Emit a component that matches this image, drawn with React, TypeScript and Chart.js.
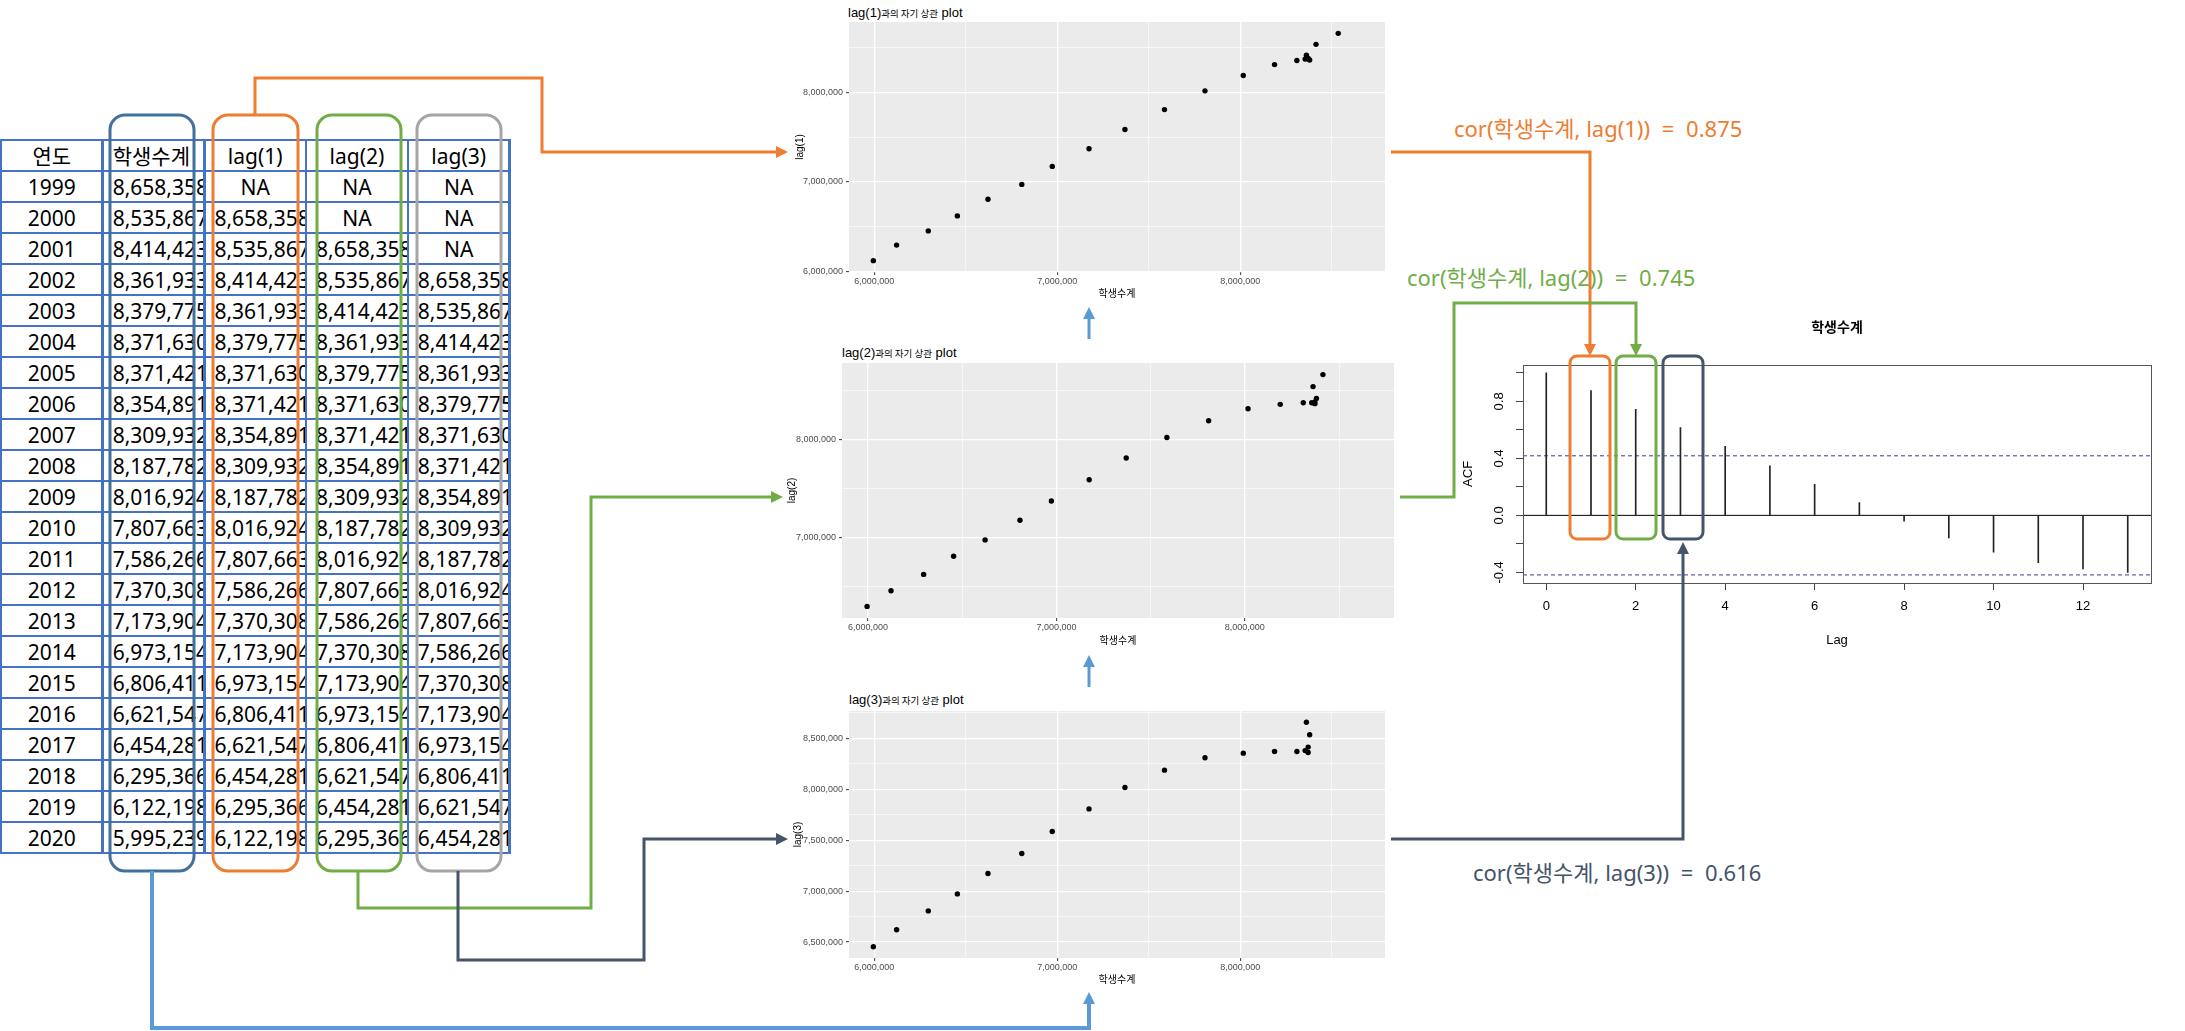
import React, { useEffect, useRef } from 'react';
import { Chart, registerables } from 'chart.js';

Chart.register(...registerables);

// ---------------- data ----------------
const years = [1999, 2000, 2001, 2002, 2003, 2004, 2005, 2006, 2007, 2008, 2009, 2010, 2011, 2012, 2013, 2014, 2015, 2016, 2017, 2018, 2019, 2020];
const students = [8658358, 8535867, 8414423, 8361933, 8379775, 8371630, 8371421, 8354891, 8309932, 8187782, 8016924, 7807663, 7586266, 7370308, 7173904, 6973154, 6806411, 6621547, 6454281, 6295366, 6122198, 5995239];
const lagOrders = [1, 2, 3];
const tableHeaders = ['연도', '학생수계', 'lag(1)', 'lag(2)', 'lag(3)'];
const seriesName = '학생수계';
const acfLags = [0, 1, 2, 3, 4, 5, 6, 7, 8, 9, 10, 11, 12, 13];
const acfValues = [1.0, 0.875, 0.745, 0.616, 0.484, 0.348, 0.217, 0.089, -0.04, -0.159, -0.259, -0.332, -0.376, -0.4];
const acfLimit = 0.418;
const corValues = [0.875, 0.745, 0.616];

// ---------------- helpers ----------------
const lagSeries = (k: number) => students.map((_, i) => (i - k >= 0 ? students[i - k] : null));
const fmt = (v: number) => Number(v).toLocaleString('en-US');
const expand = (vals: number[], f: number) => {
  const mn = Math.min(...vals);
  const mx = Math.max(...vals);
  const d = (mx - mn) * f;
  return [mn - d, mx + d];
};
const isMult = (v: any, m: number) => v !== undefined && v !== null && Math.abs(Math.round(v / m) * m - v) < 1e-6 * m;
const stepTicks = (step: number) => (scale: any) => {
  const out: any[] = [];
  const start = Math.ceil((scale.min - 1e-9 * step) / step);
  for (let j = start; j * step <= scale.max + 1e-9 * step; j++) {
    out.push({ value: Math.round(j * step * 1e6) / 1e6 });
  }
  scale.ticks = out;
};

const GG_FONT = "'Liberation Sans', Arial, 'Noto Sans CJK KR', sans-serif";
const KR_FONT = "'Noto Sans', 'Noto Sans CJK KR', sans-serif";

const ORANGE = '#ED7D31';
const GREEN = '#70AD47';
const DARK = '#44546A';
const GRAY = '#A5A5A5';
const STEEL = '#41719C';
const LIGHTBLUE = '#5B9BD5';
const TABLE_LINE = '#4472C4';

const panelBg = {
  id: 'panelBg',
  beforeDraw(chart: any, _a: any, opts: any) {
    const { ctx, chartArea } = chart;
    if (!chartArea) return;
    ctx.save();
    ctx.fillStyle = opts.color || '#EBEBEB';
    ctx.fillRect(chartArea.left, chartArea.top, chartArea.right - chartArea.left, chartArea.bottom - chartArea.top);
    ctx.restore();
  },
};

// ---------------- scatter plots ----------------
type ScatterBox = {
  k: number;
  left: number; top: number; w: number; h: number;
  yAxisW: number; xAxisH: number; padTop: number; padRight: number;
  yTitlePad: number; yMajor: number; yMinor: number;
  titleLeft: number; titleTop: number;
};

function ScatterPlot(p: ScatterBox) {
  const ref = useRef<HTMLCanvasElement>(null);
  useEffect(() => {
    const lag = lagSeries(p.k);
    const pts: any[] = [];
    students.forEach((x, i) => {
      if (lag[i] !== null) pts.push({ x, y: lag[i] });
    });
    const [xMin, xMax] = expand(students, 0.05);
    const [yMin, yMax] = expand(pts.map((q) => q.y), 0.05);
    const xMajor = 1000000;
    const xMinor = 500000;
    const chart = new Chart(ref.current as HTMLCanvasElement, {
      type: 'scatter',
      data: {
        datasets: [
          {
            data: pts,
            pointRadius: 2.7,
            pointBackgroundColor: '#000',
            pointBorderWidth: 0,
            borderColor: '#000',
          } as any,
        ],
      },
      options: {
        animation: false,
        responsive: false,
        maintainAspectRatio: false,
        layout: { padding: { top: p.padTop, right: p.padRight, left: 0, bottom: 0 } },
        plugins: {
          legend: { display: false },
          tooltip: { enabled: false },
          panelBg: { color: '#EBEBEB' },
        } as any,
        scales: {
          x: {
            type: 'linear',
            min: xMin,
            max: xMax,
            border: { display: false },
            grid: {
              color: '#FFFFFF',
              lineWidth: (c: any) => (isMult(c.tick?.value, xMajor) ? 1.3 : 0.6),
              drawTicks: true,
              tickLength: 3,
              tickWidth: 1,
              tickColor: (c: any) => (isMult(c.tick?.value, xMajor) ? '#333333' : 'rgba(0,0,0,0)'),
            },
            afterBuildTicks: stepTicks(xMinor),
            ticks: {
              autoSkip: false,
              maxRotation: 0,
              padding: 1.5,
              color: '#4D4D4D',
              font: { size: 9, family: GG_FONT },
              callback: (v: any) => (isMult(v, xMajor) ? fmt(v) : ''),
            },
            title: {
              display: true,
              text: seriesName,
              color: '#000',
              font: { size: 10, family: GG_FONT },
              padding: { top: 0, bottom: 2 },
            },
            afterFit: (s: any) => {
              s.height = p.xAxisH;
            },
          },
          y: {
            type: 'linear',
            min: yMin,
            max: yMax,
            border: { display: false },
            grid: {
              color: '#FFFFFF',
              lineWidth: (c: any) => (isMult(c.tick?.value, p.yMajor) ? 1.3 : 0.6),
              drawTicks: true,
              tickLength: 3,
              tickWidth: 1,
              tickColor: (c: any) => (isMult(c.tick?.value, p.yMajor) ? '#333333' : 'rgba(0,0,0,0)'),
            },
            afterBuildTicks: stepTicks(p.yMinor),
            ticks: {
              autoSkip: false,
              padding: 3,
              color: '#4D4D4D',
              font: { size: 9, family: GG_FONT },
              callback: (v: any) => (isMult(v, p.yMajor) ? fmt(v) : ''),
            },
            title: {
              display: true,
              text: `lag(${p.k})`,
              color: '#000',
              font: { size: 10, family: GG_FONT },
              padding: { top: p.yTitlePad, bottom: 0 },
            },
            afterFit: (s: any) => {
              s.width = p.yAxisW;
            },
          },
        } as any,
      },
      plugins: [panelBg as any],
    });
    return () => chart.destroy();
  }, []);
  return (
    <>
      <div
        style={{
          position: 'absolute',
          left: p.titleLeft,
          top: p.titleTop,
          height: 17,
          lineHeight: '17px',
          whiteSpace: 'nowrap',
          color: '#000',
        }}
      >
        <span style={{ fontFamily: GG_FONT, fontSize: 13 }}>{`lag(${p.k})`}</span>
        <span style={{ fontFamily: "'Noto Sans CJK KR', sans-serif", fontSize: 9.5 }}>과의 자기 상관</span>
        <span style={{ fontFamily: GG_FONT, fontSize: 13 }}> plot</span>
      </div>
      <canvas
        ref={ref}
        width={p.w}
        height={p.h}
        style={{ position: 'absolute', left: p.left, top: p.top, width: p.w, height: p.h }}
      />
    </>
  );
}

// ---------------- ACF chart ----------------
const acfBox = {
  id: 'acfBox',
  afterDraw(chart: any) {
    const { ctx, chartArea } = chart;
    ctx.save();
    ctx.strokeStyle = '#555555';
    ctx.lineWidth = 1;
    ctx.strokeRect(
      Math.round(chartArea.left) + 0.5,
      Math.round(chartArea.top) + 0.5,
      Math.round(chartArea.right - chartArea.left),
      Math.round(chartArea.bottom - chartArea.top)
    );
    ctx.restore();
  },
};

const acfYLabels = {
  id: 'acfYLabels',
  afterDraw(chart: any) {
    const s = chart.scales.y;
    const { ctx, chartArea } = chart;
    ctx.save();
    ctx.font = `13px ${GG_FONT}`;
    ctx.fillStyle = '#000';
    ctx.textAlign = 'center';
    ctx.textBaseline = 'middle';
    s.ticks.forEach((t: any) => {
      const idx = Math.round(t.value / 0.2);
      if (idx % 2 !== 0) return;
      const y = s.getPixelForValue(t.value);
      ctx.save();
      ctx.translate(chartArea.left - 24, y);
      ctx.rotate(-Math.PI / 2);
      ctx.fillText((Math.abs(t.value) < 1e-9 ? 0 : t.value).toFixed(1), 0, 0);
      ctx.restore();
    });
    ctx.restore();
  },
};

function AcfChart() {
  const ref = useRef<HTMLCanvasElement>(null);
  useEffect(() => {
    const [xMin, xMax] = expand(acfLags, 0.04);
    const [yMin, yMax] = expand([-acfLimit, acfLimit, ...acfValues], 0.04);
    const chart = new Chart(ref.current as HTMLCanvasElement, {
      type: 'bar',
      data: {
        datasets: [
          {
            type: 'bar',
            data: acfLags.map((l, i) => ({ x: l, y: acfValues[i] })),
            backgroundColor: '#222222',
            borderWidth: 0,
            barThickness: 1,
          } as any,
          {
            type: 'line',
            data: [{ x: xMin, y: 0 }, { x: xMax, y: 0 }],
            borderColor: '#000000',
            borderWidth: 1,
            pointRadius: 0,
            fill: false,
          } as any,
          {
            type: 'line',
            data: [{ x: xMin, y: acfLimit }, { x: xMax, y: acfLimit }],
            borderColor: '#3B3B9A',
            borderWidth: 1,
            borderDash: [4, 3],
            pointRadius: 0,
            fill: false,
          } as any,
          {
            type: 'line',
            data: [{ x: xMin, y: -acfLimit }, { x: xMax, y: -acfLimit }],
            borderColor: '#3B3B9A',
            borderWidth: 1,
            borderDash: [4, 3],
            pointRadius: 0,
            fill: false,
          } as any,
        ],
      },
      options: {
        animation: false,
        responsive: false,
        maintainAspectRatio: false,
        layout: { padding: { top: 0, right: 9, left: 0, bottom: 0 } },
        plugins: {
          legend: { display: false },
          tooltip: { enabled: false },
          title: {
            display: true,
            text: seriesName,
            fullSize: false,
            color: '#000',
            font: { size: 14, weight: 'bold', family: GG_FONT },
            padding: { top: 10, bottom: 28 },
          },
        } as any,
        scales: {
          x: {
            type: 'linear',
            min: xMin,
            max: xMax,
            offset: false,
            border: { display: false },
            grid: {
              display: true,
              offset: false,
              drawOnChartArea: false,
              drawTicks: true,
              tickLength: 7,
              tickColor: '#444444',
              tickWidth: 1,
            },
            afterBuildTicks: stepTicks(2),
            ticks: {
              autoSkip: false,
              maxRotation: 0,
              padding: 9,
              color: '#000',
              font: { size: 13, family: GG_FONT },
              callback: (v: any) => String(v),
            },
            title: {
              display: true,
              text: 'Lag',
              color: '#000',
              font: { size: 13, family: GG_FONT },
              padding: { top: 0, bottom: 2 },
            },
            afterFit: (s: any) => {
              s.height = 67;
            },
          },
          y: {
            type: 'linear',
            min: yMin,
            max: yMax,
            border: { display: false },
            grid: {
              display: true,
              drawOnChartArea: false,
              drawTicks: true,
              tickLength: 7,
              tickColor: '#444444',
              tickWidth: 1,
            },
            afterBuildTicks: stepTicks(0.2),
            ticks: {
              display: false,
              autoSkip: false,
            },
            title: {
              display: true,
              text: 'ACF',
              color: '#000',
              font: { size: 13, family: GG_FONT },
              padding: { top: 6, bottom: 0 },
            },
            afterFit: (s: any) => {
              s.width = 68;
            },
          },
        } as any,
      },
      plugins: [acfBox as any, acfYLabels as any],
    });
    return () => chart.destroy();
  }, []);
  return (
    <canvas
      ref={ref}
      width={705}
      height={340}
      style={{ position: 'absolute', left: 1455, top: 310, width: 705, height: 340 }}
    />
  );
}

// ---------------- table ----------------
const T_LEFT = 1;
const T_TOP = 140;
const COL_W = 101.7;
const ROW_H = 31;

function DataTable() {
  const lags = lagOrders.map((k) => lagSeries(k));
  const nRows = years.length + 1;
  const cells: any[] = [];
  tableHeaders.forEach((h, c) => {
    cells.push({ r: 0, c, text: h, align: c === 1 ? 'left' : 'center' });
  });
  years.forEach((y, i) => {
    cells.push({ r: i + 1, c: 0, text: String(y), align: 'center' });
    cells.push({ r: i + 1, c: 1, text: fmt(students[i]), align: 'left' });
    lags.forEach((lag, j) => {
      const v = lag[i];
      cells.push({ r: i + 1, c: 2 + j, text: v === null ? 'NA' : fmt(v), align: v === null ? 'center' : 'left' });
    });
  });
  const lines: any[] = [];
  for (let r = 0; r <= nRows; r++) {
    lines.push(
      <div
        key={'h' + r}
        style={{
          position: 'absolute',
          left: T_LEFT,
          top: T_TOP + r * ROW_H - 1,
          width: COL_W * tableHeaders.length + 1,
          height: 2,
          background: TABLE_LINE,
        }}
      />
    );
  }
  for (let c = 0; c <= tableHeaders.length; c++) {
    lines.push(
      <div
        key={'v' + c}
        style={{
          position: 'absolute',
          left: T_LEFT + c * COL_W - 1.25,
          top: T_TOP - 1,
          width: 2.5,
          height: nRows * ROW_H + 2,
          background: TABLE_LINE,
        }}
      />
    );
  }
  return (
    <>
      {cells.map((cl, i) => (
        <div
          key={i}
          style={{
            position: 'absolute',
            left: T_LEFT + cl.c * COL_W,
            top: T_TOP + cl.r * ROW_H + 2,
            width: COL_W,
            height: ROW_H - 2,
            lineHeight: ROW_H - 2 + 'px',
            fontSize: 21,
            fontFamily: KR_FONT,
            color: '#000',
            textAlign: cl.align,
            paddingLeft: cl.align === 'left' ? 10 : 0,
            boxSizing: 'border-box',
            overflow: 'hidden',
            whiteSpace: 'nowrap',
          }}
        >
          {cl.text}
        </div>
      ))}
      {lines}
    </>
  );
}

// ---------------- overlay (highlight boxes, connectors) ----------------
function arrowHead(x: number, y: number, dir: string, color: string, len = 12, half = 6) {
  let pts = '';
  if (dir === 'right') pts = `${x},${y} ${x - len},${y - half} ${x - len},${y + half}`;
  if (dir === 'down') pts = `${x},${y} ${x - half},${y - len} ${x + half},${y - len}`;
  if (dir === 'up') pts = `${x},${y} ${x - half},${y + len} ${x + half},${y + len}`;
  return <polygon points={pts} fill={color} />;
}

function Overlay() {
  const sw = 3;
  const line = (pts: string, color: string, w = sw) => (
    <polyline points={pts} fill="none" stroke={color} strokeWidth={w} strokeLinejoin="miter" />
  );
  return (
    <svg
      width={2185}
      height={1031}
      style={{ position: 'absolute', left: 0, top: 0, pointerEvents: 'none' }}
    >
      {/* table highlights */}
      <rect x={110} y={115} width={84} height={756} rx={15} fill="none" stroke={STEEL} strokeWidth={sw} />
      <rect x={213} y={115} width={85} height={756} rx={15} fill="none" stroke={ORANGE} strokeWidth={sw} />
      <rect x={317} y={115} width={84} height={756} rx={15} fill="none" stroke={GREEN} strokeWidth={sw} />
      <rect x={417} y={115} width={84} height={756} rx={15} fill="none" stroke={GRAY} strokeWidth={sw} />

      {/* ACF highlights */}
      <rect x={1570} y={356} width={40} height={183} rx={7} fill="none" stroke={ORANGE} strokeWidth={sw} />
      <rect x={1616} y={356} width={40} height={183} rx={7} fill="none" stroke={GREEN} strokeWidth={sw} />
      <rect x={1663} y={356} width={40} height={183} rx={7} fill="none" stroke={DARK} strokeWidth={sw} />

      {/* orange */}
      {line('255,115 255,78 542,78 542,152 777,152', ORANGE)}
      {arrowHead(788, 152, 'right', ORANGE)}
      {line('1391,152 1590,152 1590,345', ORANGE)}
      {arrowHead(1590, 356, 'down', ORANGE)}

      {/* green */}
      {line('358,871 358,908 591,908 591,497 772,497', GREEN)}
      {arrowHead(783, 497, 'right', GREEN)}
      {line('1400,497 1454,497 1454,303 1636,303 1636,345', GREEN)}
      {arrowHead(1636, 356, 'down', GREEN)}

      {/* dark */}
      {line('458,871 458,960 644,960 644,839 777,839', DARK)}
      {arrowHead(788, 839, 'right', DARK)}
      {line('1391,839 1683,839 1683,553', DARK)}
      {arrowHead(1683, 542, 'up', DARK)}

      {/* blue */}
      {line('152,871 152,1028 1089,1028 1089,1003', LIGHTBLUE, 4)}
      {arrowHead(1089, 992, 'up', LIGHTBLUE)}
      {line('1089,339 1089,318', LIGHTBLUE)}
      {arrowHead(1089, 307, 'up', LIGHTBLUE)}
      {line('1089,687 1089,666', LIGHTBLUE)}
      {arrowHead(1089, 655, 'up', LIGHTBLUE)}
    </svg>
  );
}

function CorText({ k, left, cy, color }: { k: number; left: number; cy: number; color: string }) {
  return (
    <div
      style={{
        position: 'absolute',
        left,
        top: cy - 16,
        height: 32,
        lineHeight: '32px',
        fontSize: 22,
        fontFamily: KR_FONT,
        color,
        whiteSpace: 'nowrap',
      }}
    >
      {`cor(${seriesName}, lag(${k}))`}
      <span style={{ margin: '0 6px' }}> = </span>
      {corValues[k - 1].toFixed(3)}
    </div>
  );
}

// ---------------- app ----------------
export default function App() {
  useEffect(() => {
    document.body.style.margin = '0';
    document.documentElement.style.overflow = 'hidden';
  }, []);
  return (
    <div
      style={{
        position: 'absolute',
        left: 0,
        top: 0,
        width: 2185,
        height: 1031,
        background: '#FFFFFF',
        overflow: 'hidden',
      }}
    >
      <DataTable />
      <ScatterPlot
        k={1}
        left={786} top={10} w={604} h={292}
        yAxisW={63} xAxisH={30} padTop={12} padRight={5}
        yTitlePad={8} yMajor={1000000} yMinor={500000}
        titleLeft={848} titleTop={3}
      />
      <ScatterPlot
        k={2}
        left={780} top={351} w={620} h={298}
        yAxisW={62} xAxisH={31} padTop={12} padRight={6}
        yTitlePad={6} yMajor={1000000} yMinor={500000}
        titleLeft={842} titleTop={343}
      />
      <ScatterPlot
        k={3}
        left={786} top={699} w={604} h={289}
        yAxisW={63} xAxisH={30} padTop={12} padRight={5}
        yTitlePad={6} yMajor={500000} yMinor={250000}
        titleLeft={849} titleTop={690}
      />
      <AcfChart />
      <CorText k={1} left={1454} cy={128} color={ORANGE} />
      <CorText k={2} left={1407} cy={277} color={GREEN} />
      <CorText k={3} left={1473} cy={872} color={DARK} />
      <Overlay />
    </div>
  );
}
